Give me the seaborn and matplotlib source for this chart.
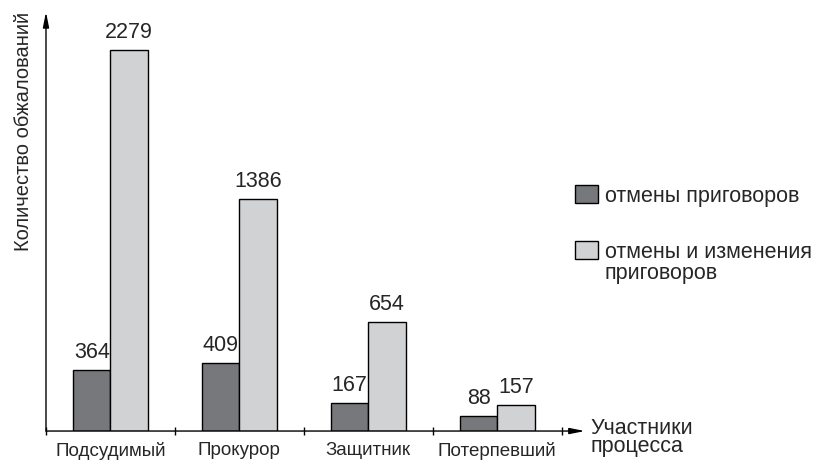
import numpy as np
import pandas as pd
import matplotlib.pyplot as plt
import seaborn as sns
from matplotlib.patches import Patch

# Данные
participants = ['Подсудимый', 'Прокурор', 'Защитник', 'Потерпевший']
series_names = ['отмены приговоров', 'отмены и изменения приговоров']
cancelled = [364, 409, 167, 88]
cancelled_changed = [2279, 1386, 654, 157]
colors = ['#77787b', '#d1d2d4']

df = pd.DataFrame({
    'participant': participants * 2,
    'series': [series_names[0]] * 4 + [series_names[1]] * 4,
    'value': cancelled + cancelled_changed,
})

sns.set_style('white')
plt.rcParams['font.family'] = ['Liberation Sans', 'DejaVu Sans']

fig = plt.figure(figsize=(8.14, 4.61), dpi=100)
ax = fig.add_axes([0.0565, 0.065, 0.662, 0.909])

sns.barplot(data=df, x='participant', y='value', hue='series',
            palette=colors, width=0.58, edgecolor='black', linewidth=1.0,
            saturation=1, legend=False, ax=ax)

# Подписи значений над столбиками
for container in ax.containers:
    ax.bar_label(container, fmt='%d', padding=5, fontsize=15.5)

ax.set_xlim(-0.5, 3.68)
ax.set_ylim(0, 2505)

# Оси со стрелками
for s in ax.spines.values():
    s.set_visible(False)
arrow = dict(arrowstyle='-|>,head_length=0.9,head_width=0.18', color='black', lw=1.0,
             shrinkA=0, shrinkB=0)
ax.annotate('', xy=(1, 0), xytext=(0, 0), xycoords='axes fraction', arrowprops=arrow)
ax.annotate('', xy=(0, 1), xytext=(0, 0), xycoords='axes fraction', arrowprops=arrow)

# Засечки между группами
ax.set_xticks(np.arange(-0.5, 4, 1), minor=True)
ax.tick_params(axis='x', which='minor', bottom=True, length=6, width=1, direction='inout', color='black')
ax.tick_params(axis='x', which='major', length=0, labelsize=13.5, pad=8)
ax.set_yticks([])
ax.set_xlabel('')
ax.set_ylabel('Количество обжалований', fontsize=14.5, loc='top', labelpad=9)

ax.annotate('Участники\nпроцесса', xy=(1, 0), xycoords='axes fraction',
            xytext=(4, 9.5), textcoords='offset points', fontsize=15.5,
            ha='left', va='top', linespacing=0.85)

# Легенда
handles = [Patch(facecolor=c, edgecolor='black', linewidth=1.0) for c in colors]
fig.legend(handles, ['отмены приговоров', 'отмены и изменения'], loc='upper left',
           bbox_to_anchor=(0.7064, 0.5987), frameon=False, fontsize=15.5,
           handlelength=1.07, handleheight=0.93, handletextpad=0.33,
           labelspacing=1.6, borderpad=0, borderaxespad=0)
fig.text(0.743, 0.395, 'приговоров', fontsize=15.5, va='baseline', ha='left')

fig.savefig('out.png', dpi=100)
